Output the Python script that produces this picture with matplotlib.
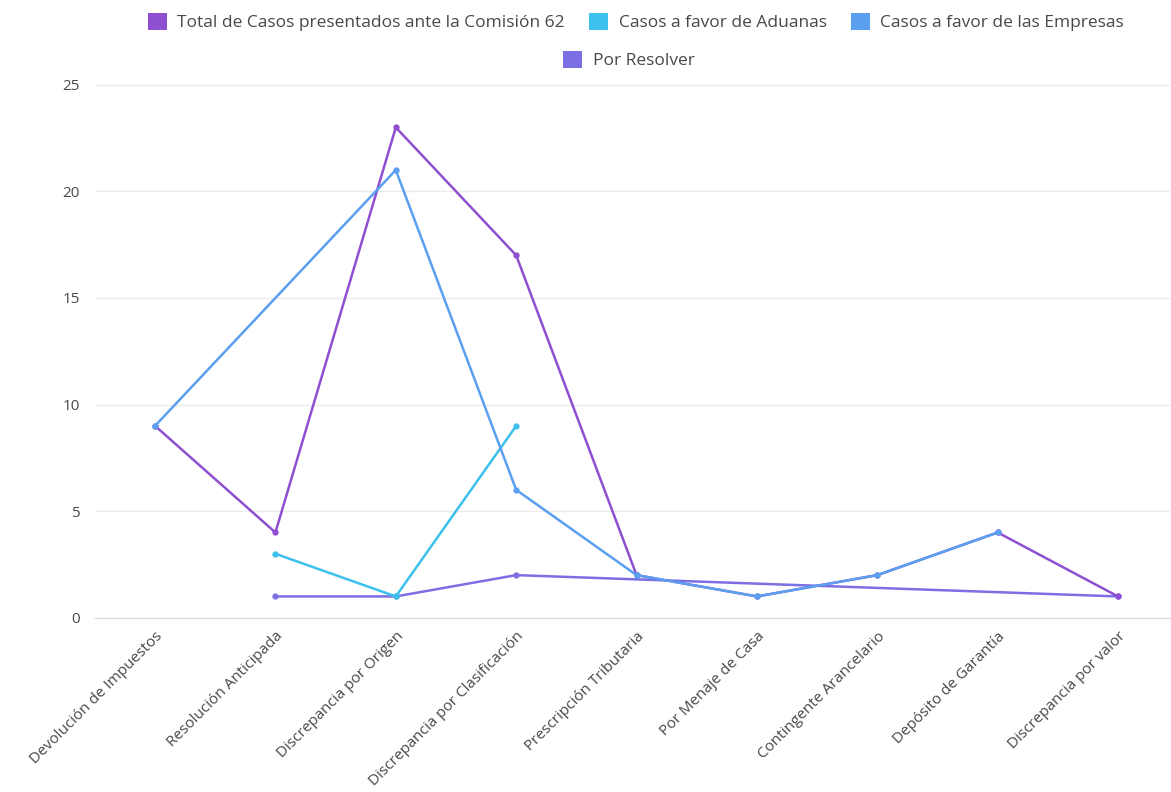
import numpy as np
import matplotlib
matplotlib.use('Agg')
import matplotlib.pyplot as plt
from matplotlib.patches import Patch

categories = ['Devolución de Impuestos', 'Resolución Anticipada', 'Discrepancia por Origen',
              'Discrepancia por Clasificación', 'Prescripción Tributaria', 'Por Menaje de Casa',
              'Contingente Arancelario', 'Depósito de Garantía', 'Discrepancia por valor']
total = [9, 4, 23, 17, 2, 1, 2, 4, 1]
aduanas = [None, 3, 1, 9, None, None, None, None, None]
empresas = [9, None, 21, 6, 2, 1, 2, 4, None]
por_resolver = [None, 1, 1, 2, None, None, None, None, 1]

names = ['Total de Casos presentados ante la Comisión 62', 'Casos a favor de Aduanas',
         'Casos a favor de las Empresas', 'Por Resolver']
colors = ['#8e4fd1', '#3cc0ec', '#5a9ff0', '#7b6fe3']

plt.rcParams['font.family'] = ['Open Sans', 'DejaVu Sans']

fig = plt.figure(figsize=(11.71, 7.92), dpi=100)
ax = fig.add_axes([0.081, 0.22, 0.918, 0.673])

x = np.arange(len(categories))
# span gaps: drop missing points and join the rest
for vals, c, z in [(por_resolver, colors[3], 2), (aduanas, colors[1], 3),
                   (total, colors[0], 4), (empresas, colors[2], 5)]:
    xs = [i for i, v in enumerate(vals) if v is not None]
    ys = [v for v in vals if v is not None]
    ax.plot(xs, ys, color=c, lw=1.8, marker='o', ms=3.5, zorder=z)

ax.set_xlim(-0.5, 8.43)
ax.set_ylim(0, 25)
ax.set_yticks([0, 5, 10, 15, 20, 25])
ax.set_xticks(x)
ax.set_xticklabels(categories, rotation=45, ha='right', rotation_mode='anchor')
ax.tick_params(axis='both', length=0, colors='#484848', labelsize=11)
ax.tick_params(axis='y', pad=11)
ax.tick_params(axis='x', pad=8)
ax.grid(axis='y', color='#ebebeb', lw=1)
ax.set_axisbelow(True)
for s in ['top', 'right', 'left']:
    ax.spines[s].set_visible(False)
ax.spines['bottom'].set_color('#d8d8d8')

handles = [Patch(facecolor=c, edgecolor='none') for c in colors]
kw = dict(frameon=False, handlelength=1.1, handleheight=1.1, fontsize=12.5,
          labelcolor='#484848', handletextpad=0.6, columnspacing=1.4)
fig.legend(handles[:3], names[:3], loc='center', bbox_to_anchor=(0.543, 0.972), ncol=3, **kw)
fig.legend(handles[3:], names[3:], loc='center', bbox_to_anchor=(0.537, 0.924), ncol=1, **kw)

fig.savefig('out.png', dpi=100)
